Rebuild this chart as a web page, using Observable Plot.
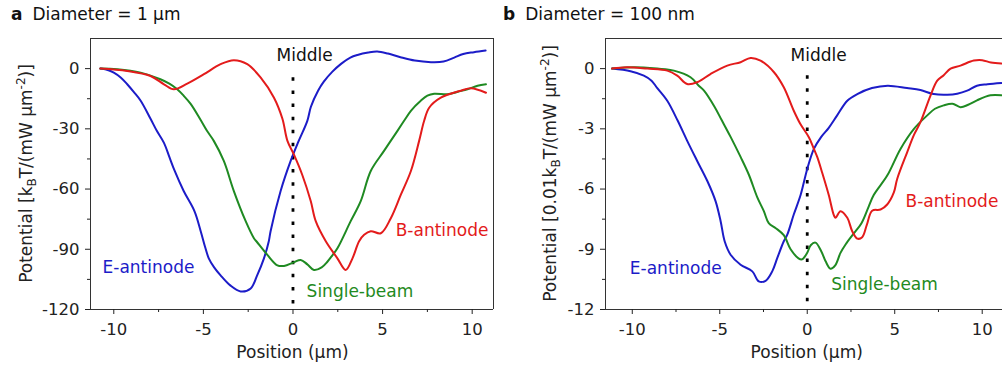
<!DOCTYPE html>
<html><head><meta charset="utf-8">
<script src="https://cdn.jsdelivr.net/npm/d3@7"></script>
<script src="https://cdn.jsdelivr.net/npm/@observablehq/plot@0.6"></script>
<style>
html,body{margin:0;padding:0;background:#fff;}
body{width:1002px;height:368px;overflow:hidden;position:relative;font-family:"DejaVu Sans",sans-serif;}
.panel{position:absolute;top:0;height:368px;}
.title{position:absolute;top:4px;font-size:17px;color:#111;white-space:nowrap;}
.title b{margin-right:10px;}
.chart{position:absolute;top:30px;left:0;}
</style></head><body>
<div class="panel" style="left:0;width:500px"><div class="title" style="left:11px"><b>a</b>Diameter = 1 μm</div><div class="chart" id="ca"></div></div>
<div class="panel" style="left:500px;width:502px"><div class="title" style="left:3px"><b>b</b>Diameter = 100 nm</div><div class="chart" id="cb"></div></div>
<script>
// ---------- Panel a data (Position µm, Potential kBT/(mW µm^-2)) ----------
const aEantinode = [[-10.75,0],[-10.3,-0.8],[-10,-2],[-9.6,-4.5],[-9.25,-7.8],[-8.9,-11.5],[-8.5,-16],[-7.95,-25],[-7.6,-31],[-7.2,-37],[-6.9,-44],[-6.6,-51],[-6.1,-61],[-5.5,-71],[-5.15,-81],[-4.9,-89],[-4.7,-94.5],[-4.4,-99],[-4.04,-103],[-3.5,-108],[-2.92,-111],[-2.36,-109.5],[-2,-103],[-1.62,-94.5],[-1.35,-86],[-1.25,-81],[-0.69,-61],[-0.13,-46],[0.32,-36],[0.8,-26],[1.0,-19],[1.4,-11],[1.72,-6.5],[2.2,-1.5],[2.7,2.5],[3.2,5.5],[3.6,6.8],[4.2,8],[4.7,8.5],[5.3,7.5],[6.0,5.7],[6.8,4],[7.7,3.2],[8.4,3.5],[9.0,5.5],[9.5,7.3],[10.1,8.2],[10.75,9]];
const aSingle = [[-10.75,0],[-9.8,-0.3],[-8.5,-2],[-7.4,-5.3],[-6.9,-7.5],[-6.46,-10.3],[-6.1,-13.5],[-5.7,-17.7],[-5.16,-25.5],[-4.8,-31],[-4.42,-36],[-3.86,-46],[-3.3,-61],[-2.64,-76],[-2.18,-84.5],[-2.0,-86.5],[-1.43,-92.8],[-0.87,-98],[-0.5,-98.3],[0.05,-96.5],[0.43,-95.3],[0.8,-97.5],[1.17,-100.3],[1.6,-99],[1.92,-96.2],[2.2,-93],[2.48,-89.5],[3.22,-76],[3.78,-66],[4.34,-51],[5.08,-41],[5.83,-31],[6.2,-26],[6.58,-21],[7.13,-16],[7.5,-13.5],[7.88,-12.5],[8.63,-12.8],[9.2,-11.5],[9.74,-10.3],[10.3,-8.5],[10.77,-7.8]];
const aBantinode = [[-10.75,0],[-9.25,-1.2],[-7.95,-3.7],[-7.2,-7.8],[-6.65,-10.3],[-5.9,-7.5],[-4.97,-2.8],[-4.04,2.2],[-3.3,4.2],[-2.55,2.2],[-1.8,-4.5],[-1.06,-14.5],[-0.59,-25],[-0.31,-36],[0.06,-43],[0.52,-53],[0.99,-66],[1.27,-76],[1.83,-86],[2.48,-94.5],[2.94,-100.3],[3.32,-94.5],[3.69,-86],[3.97,-82.8],[4.34,-81],[4.9,-82],[5.46,-74.5],[6.02,-62.8],[6.58,-51],[7.04,-36],[7.32,-26],[7.6,-19.5],[8.25,-14.5],[9.37,-11],[9.93,-9.8],[10.77,-12]];

// ---------- Panel b data (Position µm, Potential 0.01kBT/(mW µm^-2)) ----------
const bEantinode = [[-11.15,0],[-10.1,-0.13],[-9.34,-0.35],[-8.9,-0.6],[-8.57,-0.97],[-8.0,-1.6],[-7.4,-2.6],[-6.86,-3.6],[-6.29,-4.6],[-5.71,-5.6],[-5.24,-6.6],[-4.95,-7.6],[-4.72,-8.6],[-4.38,-9.27],[-3.81,-9.77],[-3.14,-10.1],[-2.77,-10.6],[-2.38,-10.57],[-2.0,-10.1],[-1.71,-9.43],[-1.34,-8.6],[-1.14,-8.27],[-0.77,-7.27],[-0.38,-6.3],[0,-5.0],[0.38,-4.0],[0.8,-3.4],[1.23,-2.95],[1.71,-2.33],[2.29,-1.6],[2.86,-1.27],[3.7,-0.97],[4.6,-0.85],[5.7,-0.97],[6.47,-1.07],[7.23,-1.27],[8.0,-1.3],[8.57,-1.25],[9.14,-1.1],[9.7,-0.85],[10.3,-0.78],[11.1,-0.72]];
const bSingle = [[-11.15,0],[-9.9,0.07],[-8.57,0],[-7.62,-0.1],[-6.67,-0.43],[-6.2,-0.85],[-5.9,-1.1],[-5.3,-1.9],[-4.9,-2.55],[-4.38,-3.4],[-3.81,-4.4],[-3.33,-5.3],[-2.86,-6.4],[-2.48,-7.1],[-2.2,-7.7],[-1.8,-7.95],[-1.34,-8.3],[-0.95,-9.0],[-0.5,-9.45],[-0.29,-9.5],[0,-9.17],[0.2,-8.8],[0.47,-8.67],[0.8,-9.1],[1.05,-9.6],[1.33,-9.97],[1.6,-9.8],[1.9,-9.18],[2.2,-8.75],[2.67,-8.2],[3.1,-7.7],[3.5,-6.9],[3.8,-6.3],[4.57,-5.33],[5.33,-4.0],[6.1,-3.0],[6.86,-2.33],[7.3,-2.0],[7.8,-1.83],[8.3,-1.75],[8.76,-1.92],[9.2,-1.8],[9.7,-1.58],[10.47,-1.33],[11.1,-1.33]];
const bBantinode = [[-11.15,0],[-10.3,0.07],[-9.14,0],[-8.0,-0.1],[-7.43,-0.35],[-6.86,-0.77],[-6.29,-0.68],[-5.53,-0.27],[-4.57,0.15],[-3.81,0.32],[-3.24,0.53],[-2.67,0.4],[-1.9,-0.18],[-1.34,-0.93],[-0.77,-2.1],[-0.4,-2.75],[0.1,-3.43],[0.38,-4.0],[0.57,-4.4],[0.86,-5.2],[1.23,-6.3],[1.52,-7.3],[1.62,-7.43],[1.9,-7.1],[2.29,-7.43],[2.57,-8.1],[2.86,-8.47],[3.14,-8.4],[3.4,-7.8],[3.71,-7.08],[4.19,-7.02],[4.57,-6.77],[4.95,-6.17],[5.14,-5.5],[5.71,-4.17],[6.1,-3.3],[6.47,-2.67],[7.05,-1.33],[7.43,-0.6],[7.8,-0.33],[8.19,0],[8.76,0.15],[9.52,0.4],[10.0,0.42],[10.5,0.3],[11.1,0.25]];

// ---------- Axes ----------
const xMajor = [-10, -5, 0, 5, 10];
const xMinor = [-7.5, -2.5, 2.5, 7.5];
const aYMajor = [0, -30, -60, -90, -120];
const aYMinor = [-15, -45, -75, -105];
const bYMajor = [0, -3, -6, -9, -12];
const bYMinor = [-1.5, -4.5, -7.5, -10.5];

// ---------- Labels ----------
const seriesNames = ["E-antinode", "Single-beam", "B-antinode"];
const seriesColors = ["#1c1cc8", "#1f8a22", "#e31b1b"];
const aLabelPos = [[-10.63, -102], [0.76, -113.8], [5.73, -83.6]];
const bLabelPos = [[-10.14, -10.23], [1.37, -11.05], [5.62, -6.87]];
const middleText = "Middle";
const aMiddlePos = [0.65, 3.85];
const bMiddlePos = [0.65, 0.385];

const fmt = d => (d < 0 ? "-" + Math.abs(d) : String(d));
const toRows = arr => arr.map(([x, y]) => ({x, y}));

function panel(cfg) {
  const H = 338, mT = 8, mB = 59;
  const lines = cfg.series.map((s, i) => Plot.line(toRows(s), {x: "x", y: "y", stroke: seriesColors[i], strokeWidth: 2, curve: "catmull-rom"}));
  const labels = seriesNames.map((t, i) => ({x: cfg.labelPos[i][0], y: cfg.labelPos[i][1], t, c: seriesColors[i]}));
  const plot = Plot.plot({
    width: cfg.width, height: H,
    marginTop: mT, marginBottom: mB, marginLeft: cfg.marginLeft, marginRight: cfg.marginRight,
    x: {domain: cfg.xDomain},
    y: {domain: cfg.yDomain},
    style: {fontFamily: "DejaVu Sans, sans-serif", fontSize: "16.5px", color: "#222", background: "transparent", overflow: "visible"},
    marks: [
      Plot.ruleY([cfg.yDomain[1]], {stroke: "#333", strokeWidth: 1}),
      Plot.ruleY([cfg.yDomain[0]], {stroke: "#333", strokeWidth: 1}),
      Plot.ruleX([cfg.xDomain[0]], {stroke: "#333", strokeWidth: 1}),
      ...(cfg.rightFrame ? [Plot.ruleX([cfg.xDomain[1]], {stroke: "#333", strokeWidth: 1})] : []),
      Plot.axisX({ticks: xMinor, tickSize: 3, tickFormat: () => "", label: null}),
      Plot.axisX({ticks: xMajor, tickSize: 5, tickPadding: 9, tickFormat: fmt, label: null}),
      Plot.axisY({ticks: cfg.yMinor, tickSize: 3, tickFormat: () => "", label: null}),
      Plot.axisY({ticks: cfg.yMajor, tickSize: 5, tickPadding: 6, tickFormat: fmt, label: null}),
      Plot.ruleX([0], {y1: cfg.dotTop, y2: cfg.yDomain[0], stroke: "#000", strokeWidth: 2.8, strokeDasharray: "3.5,9.6"}),
      ...lines,
      Plot.text(labels, {x: "x", y: "y", text: "t", fill: "c", textAnchor: "start", lineAnchor: "bottom", fontSize: 17}),
      Plot.text([{x: cfg.middlePos[0], y: cfg.middlePos[1]}], {x: "x", y: "y", text: () => middleText, fill: "#111", textAnchor: "middle", lineAnchor: "bottom", fontSize: 17})
    ]
  });
  const svg = d3.select(plot);
  const xs = plot.scale("x");
  // x-axis title
  svg.append("text").attr("x", xs.apply(0)).attr("y", 328).attr("text-anchor", "middle")
    .attr("font-size", 17).attr("fill", "#222").text("Position (μm)");
  // y-axis title with subscript / superscript
  const cy = (mT + H - mB) / 2;
  const t = svg.append("text").attr("transform", `translate(${cfg.yLabelX},${cy}) rotate(-90)`)
    .attr("text-anchor", "middle").attr("font-size", 17).attr("fill", "#222");
  cfg.yTitle.forEach(p => {
    const s = t.append("tspan").text(p.t);
    if (p.size) s.attr("font-size", p.size);
    if (p.dy) s.attr("dy", p.dy);
  });
  document.getElementById(cfg.id).appendChild(plot);
}

panel({
  id: "ca", width: 500, marginLeft: 90, marginRight: 7,
  xDomain: [-11.3, 11.19], yDomain: [-120, 15],
  yMajor: aYMajor, yMinor: aYMinor,
  series: [aEantinode, aSingle, aBantinode], labelPos: aLabelPos,
  middlePos: aMiddlePos, dotTop: -4.6, rightFrame: true, yLabelX: 32,
  yTitle: [{t: "Potential [k"}, {t: "B", size: 12, dy: 4}, {t: "T/(mW μm", dy: -4}, {t: "-2", size: 12, dy: -7}, {t: ")]", dy: 7}]
});
panel({
  id: "cb", width: 502, marginLeft: 105, marginRight: 0,
  xDomain: [-11.53, 11.16], yDomain: [-12, 1.5],
  yMajor: bYMajor, yMinor: bYMinor,
  series: [bEantinode, bSingle, bBantinode], labelPos: bLabelPos,
  middlePos: bMiddlePos, dotTop: -0.35, rightFrame: false, yLabelX: 56,
  yTitle: [{t: "Potential [0.01k"}, {t: "B", size: 12, dy: 4}, {t: "T/(mW μm", dy: -4}, {t: "-2", size: 12, dy: -7}, {t: ")]", dy: 7}]
});
</script>
</body></html>
